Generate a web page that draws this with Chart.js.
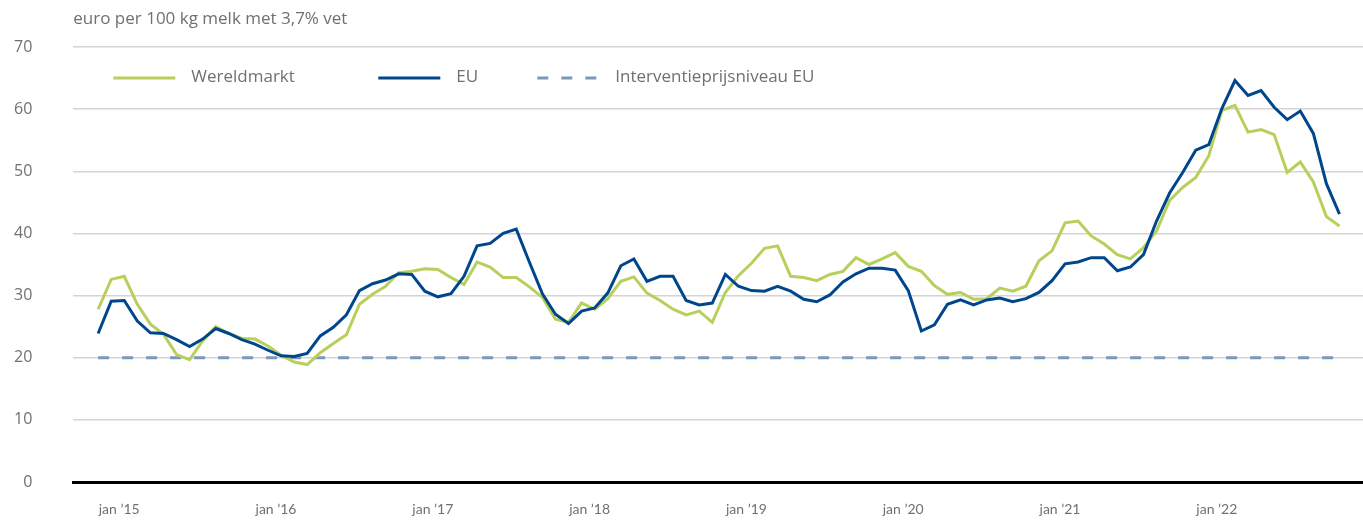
<!DOCTYPE html>
<html lang="nl">
<head>
<meta charset="utf-8">
<title>Melkprijs wereldmarkt en EU</title>
<script src="https://cdn.jsdelivr.net/npm/chart.js@4.4.1/dist/chart.umd.min.js"></script>
<style>
  html, body { margin: 0; padding: 0; background: #fff; }
  #wrap { width: 1363px; height: 520px; position: relative; }
</style>
</head>
<body>
<div id="wrap"><canvas id="melkChart"></canvas></div>
<script>
// maandelijkse reeks, dec '14 t/m nov '22 (96 maanden)
const wereldmarkt = [
  27.8, 32.6, 33.1, 28.6, 25.4, 23.8, 20.5, 19.7, 22.7, 25.0, 23.9, 23.1,
  23.0, 21.9, 20.4, 19.3, 18.9, 20.8, 22.3, 23.7, 28.6, 30.2, 31.5, 33.7,
  33.9, 34.3, 34.2, 32.9, 31.8, 35.4, 34.6, 32.9, 32.9, 31.4, 29.7, 26.2,
  25.7, 28.8, 27.8, 29.5, 32.3, 33.0, 30.4, 29.2, 27.8, 26.9, 27.5, 25.7,
  30.5, 33.2, 35.2, 37.6, 38.0, 33.1, 32.9, 32.4, 33.4, 33.9, 36.1, 35.0,
  35.9, 36.9, 34.7, 33.9, 31.6, 30.2, 30.5, 29.4, 29.5, 31.2, 30.7, 31.5,
  35.6, 37.2, 41.7, 42.0, 39.6, 38.3, 36.6, 35.9, 37.7, 40.4, 45.3, 47.4,
  49.0, 52.5, 59.8, 60.6, 56.3, 56.7, 55.9, 49.8, 51.5, 48.3, 42.7, 41.2
];
const eu = [
  23.9, 29.1, 29.2, 25.9, 24.0, 23.9, 22.9, 21.8, 23.0, 24.7, 23.9, 22.9,
  22.2, 21.2, 20.3, 20.2, 20.7, 23.5, 24.9, 26.9, 30.8, 31.9, 32.5, 33.5,
  33.4, 30.7, 29.8, 30.3, 33.1, 38.0, 38.4, 40.0, 40.7, 35.4, 30.3, 27.0,
  25.5, 27.5, 28.0, 30.4, 34.8, 35.9, 32.3, 33.1, 33.1, 29.2, 28.5, 28.8,
  33.4, 31.5, 30.8, 30.7, 31.5, 30.7, 29.4, 29.0, 30.1, 32.2, 33.5, 34.4,
  34.4, 34.1, 30.8, 24.3, 25.3, 28.6, 29.3, 28.5, 29.3, 29.6, 29.0, 29.5,
  30.5, 32.4, 35.1, 35.4, 36.1, 36.1, 34.0, 34.6, 36.6, 42.0, 46.5, 49.8,
  53.4, 54.3, 60.1, 64.6, 62.2, 63.0, 60.3, 58.3, 59.7, 56.1, 48.0, 43.1
];
const interventieNiveau = 20;

// januari-maanden binnen de reeks (index) en hun labels
const janIndex = [1, 13, 25, 37, 49, 61, 73, 85];
const tickLabels = ["jan \u201915", "jan \u201916", "jan \u201917", "jan \u201918",
                    "jan \u201919", "jan \u201920", "jan \u201921", "jan \u201922"];
const yTicks = [0, 10, 20, 30, 40, 50, 60, 70];

const textColor = '#707070';
const fontFamily = '"Open Sans", Lato, sans-serif';
const tickFont = 'Lato, "Open Sans", sans-serif';

const toPoints = arr => arr.map((v, i) => ({ x: i, y: v }));
const laatste = eu.length - 1;

// titel linksboven, uitgelijnd met het plotgebied
const titelPlugin = {
  id: 'titel',
  afterDraw(chart, args, opts) {
    const ctx = chart.ctx;
    ctx.save();
    ctx.font = '17px ' + fontFamily;
    ctx.fillStyle = textColor;
    ctx.textBaseline = 'middle';
    ctx.fillText(opts.text, chart.chartArea.left, opts.y);
    ctx.restore();
  }
};

// legenda binnen het plotgebied, met lijnsegmenten
const legendaPlugin = {
  id: 'legenda',
  afterDraw(chart, args, opts) {
    const { ctx, chartArea } = chart;
    ctx.save();
    ctx.font = '17px ' + fontFamily;
    ctx.fillStyle = textColor;
    ctx.textBaseline = 'middle';
    chart.data.datasets.forEach((ds, i) => {
      const x = chartArea.left + opts.offsets[i];
      const y = opts.y;
      ctx.beginPath();
      ctx.strokeStyle = ds.borderColor;
      ctx.lineWidth = ds.borderWidth;
      ctx.setLineDash(ds.borderDash || []);
      ctx.moveTo(x, y + 1);
      ctx.lineTo(x + opts.lineLength, y + 1);
      ctx.stroke();
      ctx.fillText(ds.label, x + opts.lineLength + opts.gap, y);
    });
    ctx.restore();
  }
};

const ctx = document.getElementById('melkChart').getContext('2d');
new Chart(ctx, {
  type: 'line',
  data: {
    datasets: [
      {
        label: 'Wereldmarkt',
        data: toPoints(wereldmarkt),
        borderColor: '#b7cf5b',
        borderWidth: 3,
        pointRadius: 0,
        tension: 0,
        order: 2
      },
      {
        label: 'EU',
        data: toPoints(eu),
        borderColor: '#00468c',
        borderWidth: 3,
        pointRadius: 0,
        tension: 0,
        order: 1
      },
      {
        label: 'Interventieprijsniveau EU',
        data: [{ x: 0, y: interventieNiveau }, { x: laatste, y: interventieNiveau }],
        borderColor: '#7d97ba',
        borderWidth: 3,
        borderDash: [11, 13],
        pointRadius: 0,
        order: 3
      }
    ]
  },
  options: {
    responsive: true,
    maintainAspectRatio: false,
    animation: false,
    layout: { padding: { top: 47, left: -27, right: 0, bottom: 1 } },
    plugins: {
      legend: { display: false },
      tooltip: { enabled: false },
      titel: { text: 'euro per 100 kg melk met 3,7% vet', y: 19 },
      legenda: { offsets: [40, 305, 464], y: 77, lineLength: 62, gap: 16 }
    },
    scales: {
      x: {
        type: 'linear',
        min: -1.9,
        max: laatste + 1.8,
        grid: { display: false },
        border: { display: true, color: '#000', width: 3 },
        afterBuildTicks: scale => { scale.ticks = janIndex.map(v => ({ value: v })); },
        afterFit: scale => {
          scale.height = 37;
          scale.paddingLeft = 0;
          scale.paddingRight = 0;
        },
        ticks: {
          autoSkip: false,
          maxRotation: 0,
          padding: 11,
          labelOffset: 8,
          color: textColor,
          font: { family: tickFont, size: 14 },
          callback: value => tickLabels[janIndex.indexOf(value)]
        }
      },
      y: {
        min: 0,
        max: 70,
        afterBuildTicks: scale => { scale.ticks = yTicks.map(v => ({ value: v })); },
        afterFit: scale => {
          scale.paddingTop = 8;
          scale.paddingBottom = 8;
        },
        grid: { color: '#d4d4d4', lineWidth: 1.5, drawTicks: false },
        border: { display: false },
        ticks: {
          padding: 41,
          color: textColor,
          font: { family: fontFamily, size: 16 }
        }
      }
    }
  },
  plugins: [titelPlugin, legendaPlugin]
});
</script>
</body>
</html>
